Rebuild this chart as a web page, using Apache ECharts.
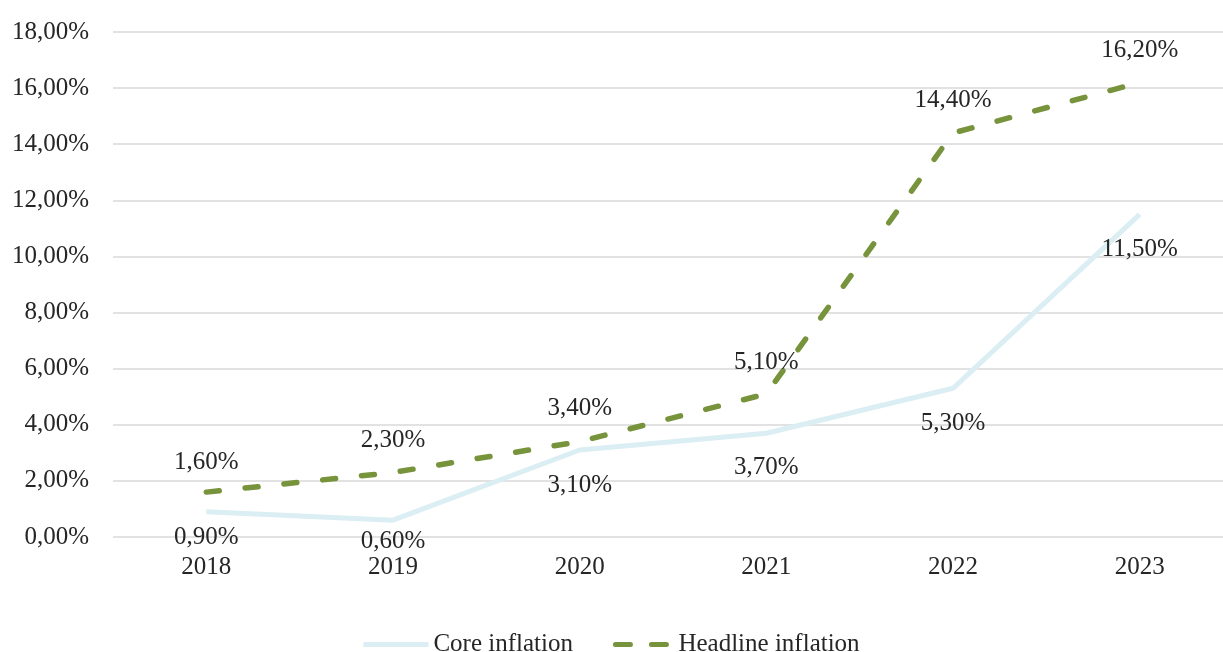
<!DOCTYPE html>
<html><head><meta charset="utf-8">
<script src="https://cdn.jsdelivr.net/npm/echarts@6/dist/echarts.min.js"></script>
<style>html,body{margin:0;padding:0;background:#fff}#c{width:1223px;height:652px}</style>
</head><body><div id="c"></div>
<script>
const categories = ['2018','2019','2020','2021','2022','2023'];
const coreInflation = [0.9, 0.6, 3.1, 3.7, 5.3, 11.5];
const headlineInflation = [1.6, 2.3, 3.4, 5.1, 14.4, 16.2];
const seriesNames = ['Core inflation', 'Headline inflation'];

// label offsets (styling, not data)
const coreLabelDistance = [13, 9, 23, 22, 23, 23];
const headlineLabelDistance = [17, 19, 21, 19, 20, 20];

const fmt = v => Number(v).toFixed(2).replace('.', ',') + '%';
const FONT = '"Liberation Serif", "Times New Roman", serif';
const TXT = '#262626';
const chart = echarts.init(document.getElementById('c'));
chart.setOption({
  animation: false,
  textStyle: { fontFamily: FONT },
  grid: { left: 113, width: 1120, top: 32, height: 505, outerBoundsMode: 'none', containLabel: false },
  legend: {
    top: 627, left: 'center', itemWidth: 65, itemHeight: 5, itemGap: 40,
    textStyle: { fontFamily: FONT, fontSize: 25, color: TXT },
    data: [
      { name: seriesNames[0], icon: 'path://M0,0h65v5h-65z', itemStyle: { color: '#DAEEF3' } },
      { name: seriesNames[1], icon: 'path://M2.5,0h15a2.5,2.5,0,0,1,0,5h-15a2.5,2.5,0,0,1,0,-5z M38.5,0h15a2.5,2.5,0,0,1,0,5h-15a2.5,2.5,0,0,1,0,-5z', itemStyle: { color: '#77933C' } }
    ]
  },
  xAxis: {
    type: 'category', data: categories, boundaryGap: true,
    axisLine: { show: false }, axisTick: { show: false },
    axisLabel: { fontFamily: FONT, fontSize: 25, color: TXT, margin: 18 }
  },
  yAxis: {
    type: 'value', min: 0, max: 18, interval: 2,
    axisLine: { show: false }, axisTick: { show: false },
    splitLine: { lineStyle: { color: '#d9d9d9', width: 1.5 } },
    axisLabel: { fontFamily: FONT, fontSize: 25, color: TXT, margin: 24, formatter: fmt }
  },
  series: [
    {
      name: seriesNames[0], type: 'line',
      data: coreInflation.map((v, i) => ({ value: v, label: { distance: coreLabelDistance[i] } })),
      symbol: 'circle', symbolSize: 0.1, showSymbol: true, color: '#DAEEF3',
      lineStyle: { color: '#DAEEF3', width: 5 },
      label: { show: true, position: 'bottom', fontFamily: FONT, fontSize: 25, color: TXT, formatter: p => fmt(p.value) },
      z: 2
    },
    {
      name: seriesNames[1], type: 'line',
      data: headlineInflation.map((v, i) => ({ value: v, label: { distance: headlineLabelDistance[i] } })),
      symbol: 'circle', symbolSize: 0.1, showSymbol: true, color: '#77933C',
      lineStyle: { color: '#77933C', width: 5.5, type: [13, 26], cap: 'round' },
      label: { show: true, position: 'top', fontFamily: FONT, fontSize: 25, color: TXT, formatter: p => fmt(p.value) },
      z: 3
    }
  ]
});
</script></body></html>
